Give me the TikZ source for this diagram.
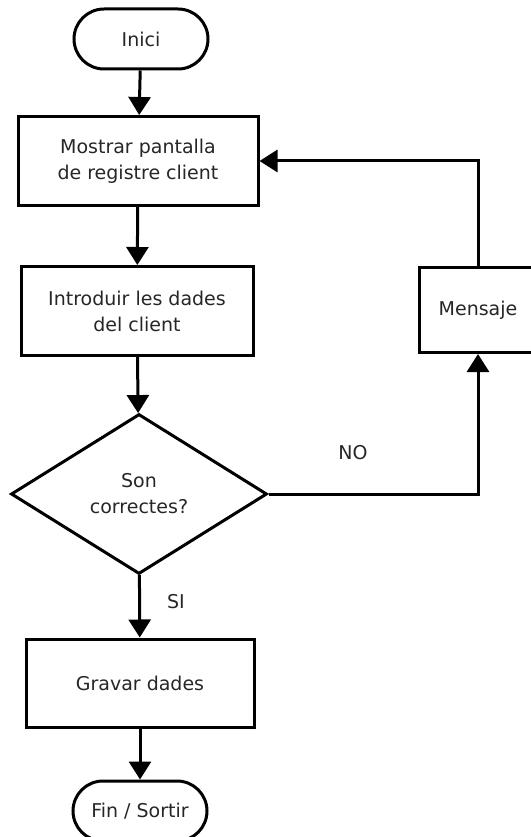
\documentclass[tikz,border=0pt]{standalone}
\usepackage{fontspec}
\setmainfont{DejaVu Sans}
\usepackage{tikz}
\usetikzlibrary{shapes.geometric,shapes.misc,arrows.meta}

\begin{document}
\begin{tikzpicture}[x=1pt,y=-1pt,
                line width=3pt,
                font=\fontsize{19}{26}\selectfont,
                terminal/.style={draw,rounded rectangle,minimum width=134pt,minimum height=60pt,inner sep=0pt,text=black!85},
                procbox/.style={draw,rectangle,align=center,inner sep=0pt,text=black!85},
                decision/.style={draw,diamond,align=center,inner sep=0pt,minimum width=256pt,minimum height=160pt,text=black!85},
                flow/.style={-{Triangle[width=22pt,length=18pt]}},
                lbl/.style={inner sep=0pt,text=black!85}]
                \useasboundingbox (0,0) rectangle (530,837);
                \node [terminal] (inici) at (141,39) {Inici};
                \node [procbox,minimum width=240pt,minimum height=89pt] (mostrar) at (138,161) {Mostrar pantalla\\de registre client};
                \node [procbox,minimum width=232pt,minimum height=89pt] (intro) at (137,311) {Introduir les dades\\del client};
                \node [decision] (correctes) at (139,494) {Son\\correctes?};
                \node [procbox,minimum width=228pt,minimum height=88pt] (gravar) at (140,683) {Gravar dades};
                \node [terminal] (fin) at (140,811) {Fin / Sortir};
                \node [procbox,minimum width=118pt,minimum height=85pt] (mensaje) at (478,310) {Mensaje};
                \node [lbl] (no) at (353,453) {NO};
                \node [lbl] (si) at (176,602) {SI};
                \draw [flow] (inici) -- (mostrar);
                \draw [flow] (mostrar) -- (intro);
                \draw [flow] (intro) -- (correctes);
                \draw [flow] (correctes) -- (gravar);
                \draw [flow] (gravar) -- (fin);
                \draw [flow] (correctes.east) -| (mensaje.south);
                \draw [flow] (mensaje.north) |- (mostrar.east);
            \end{tikzpicture}
\end{document}
